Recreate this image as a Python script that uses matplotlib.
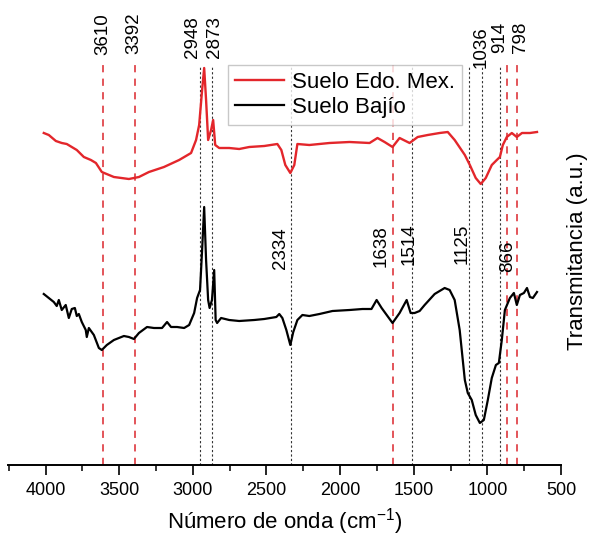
import matplotlib
matplotlib.use("Agg")
import matplotlib.pyplot as plt
from matplotlib.ticker import MultipleLocator

plt.rcParams['font.family'] = ['Liberation Sans', 'DejaVu Sans']

# ---------------- data (wavenumber cm^-1, transmittance a.u.) ----------------
edo_wn = [4012, 3978, 3930, 3890, 3856, 3822, 3788, 3740, 3692, 3658, 3618, 3536,
          3434, 3366, 3298, 3196, 3093, 3012, 2978, 2957, 2937, 2923, 2910, 2896,
          2876, 2862, 2848, 2821, 2753, 2685, 2617, 2515, 2426, 2399, 2372, 2338,
          2311, 2290, 2209, 2072, 1936, 1800, 1746, 1698, 1644, 1596, 1528, 1473,
          1405, 1324, 1269, 1222, 1153, 1119, 1079, 1045, 1011, 970, 936, 915,
          895, 868, 834, 800, 765, 711, 663]
edo_t = [332, 330, 324, 322, 321, 318, 315, 308, 305, 302, 293, 288,
         286, 288, 293, 298, 305, 312, 325, 340, 375, 397, 365, 325,
         335, 345, 320, 317, 317, 316, 318, 319, 321, 315, 300, 292,
         300, 321, 320, 322, 323, 322, 327, 323, 318, 327, 322, 328,
         330, 332, 333, 325, 310, 300, 287, 281, 287, 300, 305, 308,
         320, 328, 332, 328, 332, 332, 333]

bajio_wn = [4012, 3978, 3944, 3924, 3910, 3890, 3863, 3842, 3822, 3801, 3788, 3774,
            3754, 3727, 3720, 3706, 3672, 3638, 3618, 3584, 3536, 3468, 3434, 3400,
            3366, 3311, 3264, 3209, 3175, 3148, 3107, 3059, 3025, 2991, 2971, 2951,
            2937, 2923, 2910, 2896, 2886, 2870, 2855, 2845, 2835, 2808, 2753, 2685,
            2583, 2515, 2433, 2413, 2392, 2365, 2338, 2318, 2290, 2256, 2209, 2140,
            2052, 1936, 1848, 1787, 1752, 1718, 1644, 1596, 1548, 1521, 1494, 1460,
            1426, 1358, 1290, 1256, 1222, 1188, 1153, 1133, 1106, 1079, 1051, 1024,
            997, 970, 942, 922, 902, 881, 847, 820, 800, 779, 752, 731, 711, 691, 663]
bajio_t = [171, 167, 163, 159, 165, 155, 160, 147, 156, 157, 149, 151,
           143, 135, 128, 137, 130, 117, 115, 120, 125, 129, 128, 126,
           132, 138, 137, 137, 143, 138, 138, 137, 140, 152, 167, 175,
           215, 258, 205, 165, 157, 165, 195, 145, 142, 147, 145, 144,
           145, 146, 148, 151, 147, 135, 120, 133, 145, 150, 149, 151,
           154, 155, 156, 156, 165, 157, 142, 152, 165, 152, 152, 154,
           160, 171, 177, 175, 165, 135, 85, 72, 65, 50, 42, 45,
           65, 87, 100, 102, 125, 155, 167, 172, 160, 170, 172, 177, 168, 167, 173]

red_peaks = [3610, 3392, 1638, 866, 798]
black_peaks = [2948, 2873, 2334, 1514, 1125, 1036, 914]
peak_labels = ['3610', '3392', '2948', '2873', '2334', '1638', '1514',
               '1125', '1036', '914', '866', '798']

series_names = ['Suelo Edo. Mex.', 'Suelo Bajío']
xticks = [4000, 3500, 3000, 2500, 2000, 1500, 1000, 500]

# ---------------- layout / style ----------------
# label placement: (y in axis units, horizontal pixel offset)
label_layout = {
    '3610': (431, 0), '3392': (431.5, -1), '2948': (427.5, -8), '2873': (427.5, 3),
    '1036': (418, -1), '914': (427.5, 0), '798': (428, 3),
    '2334': (216.5, -10), '1638': (218.5, -12), '1514': (221, -3),
    '1125': (221.5, -7), '866': (209, 1),
}

fig = plt.figure(figsize=(5.95, 5.35), dpi=100)
ax = fig.add_axes([8 / 595, 70 / 535, 553 / 595, 400 / 535])

red_line = '#e3262b'
dash_red = '#e0474c'

for wn in red_peaks:
    ax.axvline(wn, color=dash_red, lw=1.3, ls=(0, (4, 3.5)), zorder=1)
for wn in black_peaks:
    ax.axvline(wn, color='#333333', lw=0.8, ls=(0, (2, 2)), zorder=1)

ax.plot(edo_wn, edo_t, color=red_line, lw=1.7, label=series_names[0], zorder=3)
ax.plot(bajio_wn, bajio_t, color='black', lw=1.6, label=series_names[1], zorder=3)

for lab in peak_labels:
    yv, dx = label_layout[lab]
    ax.annotate(lab, xy=(float(lab), yv), xytext=(dx, 0), textcoords='offset pixels',
                rotation=90, ha='center', va='center', fontsize=13.5,
                annotation_clip=False)

ax.set_xlim(4255, 500)
ax.set_ylim(0, 400)
ax.set_xticks(xticks)
ax.set_xticklabels([str(t) for t in xticks])
ax.xaxis.set_minor_locator(MultipleLocator(250))
ax.tick_params(axis='x', which='major', direction='out', length=7, width=1.2,
               labelsize=13, pad=5)
ax.tick_params(axis='x', which='minor', direction='out', length=4, width=1.1)
ax.set_yticks([])
for s in ['left', 'top', 'right']:
    ax.spines[s].set_visible(False)
ax.spines['bottom'].set_linewidth(1.4)

ax.set_xlabel('Número de onda (cm$^{\\mathregular{-1}}$)', fontsize=16, labelpad=5)
ax.yaxis.set_label_position('right')
ax.set_ylabel('Transmitancia (a.u.)', fontsize=16)
ax.yaxis.label.set_rotation_mode('default')
ax.yaxis.label.set_ha('center')
ax.yaxis.label.set_va('center')
ax.yaxis.set_label_coords((577 - 8) / 553, (465 - 251) / 400)

leg = ax.legend(loc='upper left', bbox_to_anchor=((228 - 8) / 553, 1.0),
                borderaxespad=0, fontsize=16, frameon=True, fancybox=False,
                handlelength=2.2, handletextpad=0.4, borderpad=0.3,
                labelspacing=0.2)
leg.get_frame().set_edgecolor('#bbbbbb')
leg.get_frame().set_linewidth(1.0)

fig.savefig('out.png', dpi=100)
